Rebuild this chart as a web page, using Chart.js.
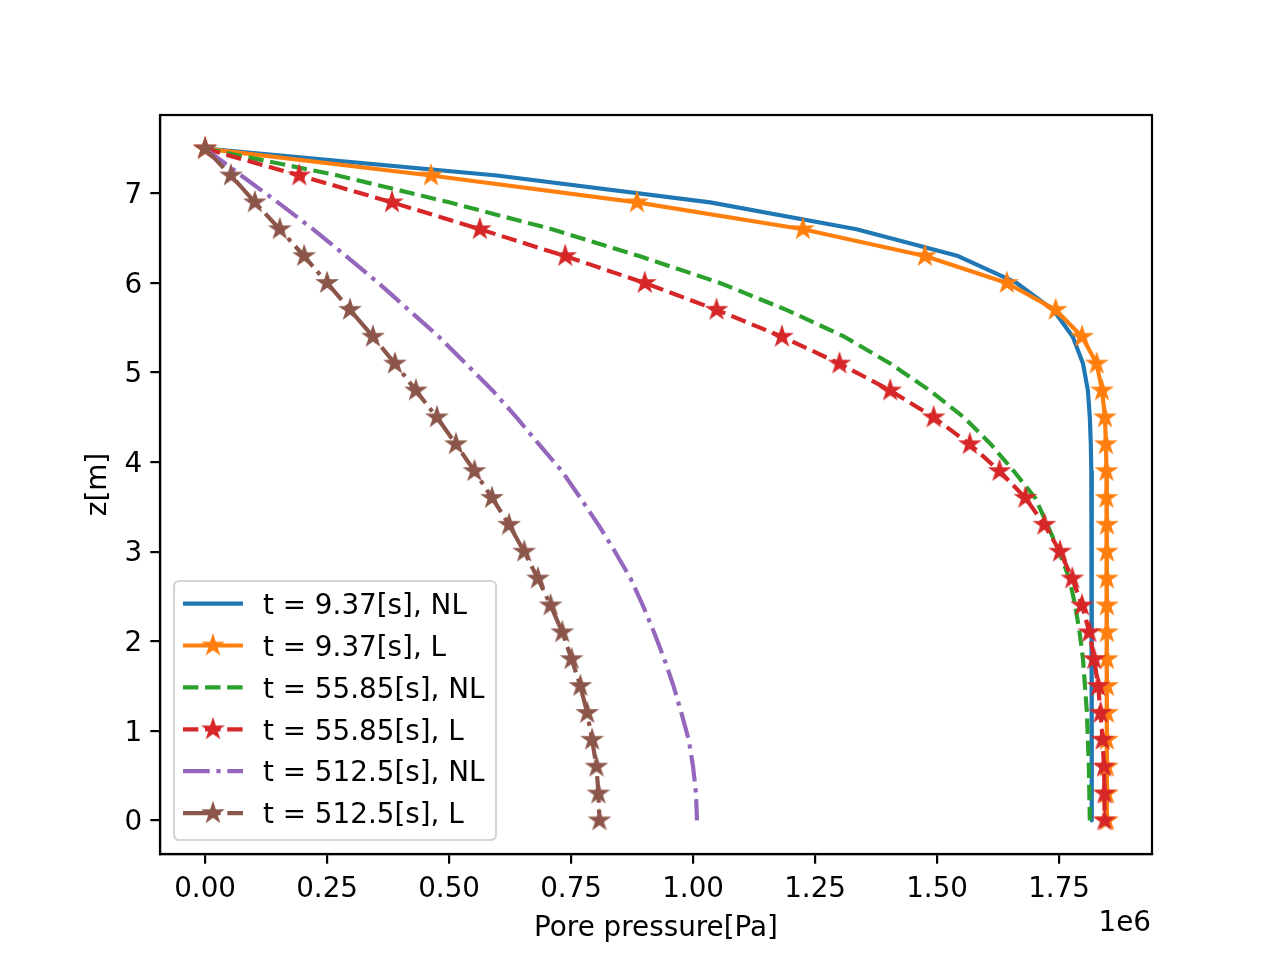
<!DOCTYPE html>
<html>
<head>
<meta charset="utf-8">
<script src="https://cdn.jsdelivr.net/npm/chart.js@4.4.1/dist/chart.umd.min.js"></script>
<style>
  html, body { margin: 0; padding: 0; background: #fff; }
  canvas { display: block; }
</style>
</head>
<body>
<canvas id="poreChart" width="1280" height="960"></canvas>
<script>
// depth of each sample [m]
var zValues = [7.5, 7.2, 6.9, 6.6, 6.3, 6.0, 5.7, 5.4, 5.1, 4.8, 4.5, 4.2, 3.9,
               3.6, 3.3, 3.0, 2.7, 2.4, 2.1, 1.8, 1.5, 1.2, 0.9, 0.6, 0.3, 0];

// pore pressure, in units of 1e6 Pa
var nl937 = [0, 0.598, 1.035, 1.335, 1.543, 1.663, 1.738, 1.778, 1.799, 1.809, 1.813, 1.815, 1.816,
             1.817, 1.817, 1.817, 1.817, 1.817, 1.817, 1.817, 1.817, 1.817, 1.817, 1.817, 1.817, 1.817];
var l937 = [0, 0.463, 0.885, 1.225, 1.475, 1.643, 1.743, 1.797, 1.827, 1.838, 1.844, 1.846, 1.847,
            1.847, 1.848, 1.848, 1.848, 1.848, 1.848, 1.848, 1.848, 1.848, 1.848, 1.848, 1.848, 1.848];
var nl5585 = [0, 0.272, 0.500, 0.711, 0.890, 1.055, 1.191, 1.310, 1.404, 1.485, 1.555, 1.610, 1.657,
              1.701, 1.726, 1.750, 1.771, 1.783, 1.792, 1.799, 1.803, 1.807, 1.809, 1.811, 1.812, 1.813];
var l5585 = [0, 0.193, 0.383, 0.563, 0.738, 0.901, 1.048, 1.182, 1.300, 1.404, 1.493, 1.567, 1.628,
             1.681, 1.720, 1.752, 1.777, 1.797, 1.812, 1.822, 1.830, 1.835, 1.839, 1.842, 1.843, 1.843];
var nl5125 = [0, 0.074, 0.149, 0.221, 0.289, 0.355, 0.417, 0.479, 0.534, 0.589, 0.638, 0.684, 0.731,
              0.769, 0.806, 0.840, 0.872, 0.897, 0.920, 0.941, 0.960, 0.976, 0.991, 1.000, 1.006, 1.008];
var l5125 = [0, 0.053, 0.102, 0.153, 0.203, 0.250, 0.297, 0.344, 0.389, 0.432, 0.475, 0.514, 0.552,
             0.588, 0.623, 0.654, 0.682, 0.708, 0.732, 0.751, 0.769, 0.783, 0.793, 0.802, 0.806, 0.808];

var seriesLabels = ['t = 9.37[s], NL', 't = 9.37[s], L', 't = 55.85[s], NL',
                    't = 55.85[s], L', 't = 512.5[s], NL', 't = 512.5[s], L'];
var xTicks = [0, 0.25, 0.5, 0.75, 1.0, 1.25, 1.5, 1.75];
var yTicks = [0, 1, 2, 3, 4, 5, 6, 7];

var FONT = { family: 'DejaVu Sans', size: 27.8 };
var LW = 4.17;
var DASHED = [15.4, 6.7];
var DASHDOT = [26.7, 6.7, 4.2, 6.7];

// filled five point star like matplotlib's '*' marker
function makeStar(color) {
    var c = document.createElement('canvas');
    c.width = 26;
    c.height = 26;
    var g = c.getContext('2d');
    var R = 8.3, r = R * 0.382;
    g.beginPath();
    for (var k = 0; k < 10; k++) {
        var rad = (k % 2 === 0) ? R : r;
        var a = -Math.PI / 2 + k * Math.PI / 5;
        var px = 13 + rad * Math.cos(a), py = 13 + rad * Math.sin(a);
        if (k === 0) g.moveTo(px, py); else g.lineTo(px, py);
    }
    g.closePath();
    g.fillStyle = color;
    g.fill();
    g.lineWidth = 2.6;
    g.lineJoin = 'miter';
    g.strokeStyle = color;
    g.stroke();
    return c;
}

function pairs(xs) {
    return xs.map(function (v, i) { return { x: v, y: zValues[i] }; });
}

var colors = ['#1f77b4', '#ff7f0e', '#2ca02c', '#d62728', '#9467bd', '#8c564b'];
var values = [nl937, l937, nl5585, l5585, nl5125, l5125];
var dashes = [[], [], DASHED, DASHED, DASHDOT, DASHDOT];
var hasStar = [false, true, false, true, false, true];

var datasets = values.map(function (v, i) {
    var star = hasStar[i] ? makeStar(colors[i]) : null;
    return {
        label: seriesLabels[i],
        data: pairs(v),
        borderColor: colors[i],
        backgroundColor: colors[i],
        borderWidth: LW,
        borderDash: dashes[i],
        borderJoinStyle: 'round',
        borderCapStyle: 'butt',
        showLine: true,
        fill: false,
        tension: 0,
        pointRadius: star ? 9 : 0,
        pointHoverRadius: star ? 9 : 0,
        pointStyle: star || 'circle',
        order: 10 - i
    };
});

function roundRect(ctx, x, y, w, h, r) {
    ctx.beginPath();
    ctx.moveTo(x + r, y);
    ctx.lineTo(x + w - r, y);
    ctx.quadraticCurveTo(x + w, y, x + w, y + r);
    ctx.lineTo(x + w, y + h - r);
    ctx.quadraticCurveTo(x + w, y + h, x + w - r, y + h);
    ctx.lineTo(x + r, y + h);
    ctx.quadraticCurveTo(x, y + h, x, y + h - r);
    ctx.lineTo(x, y + r);
    ctx.quadraticCurveTo(x, y, x + r, y);
    ctx.closePath();
}

var framePlugin = {
    id: 'frameAndLegend',
    afterDatasetsDraw: function (chart) {
        var ctx = chart.ctx, a = chart.chartArea;
        ctx.save();
        // axes box
        ctx.strokeStyle = '#000';
        ctx.lineWidth = 2.2;
        ctx.strokeRect(a.left, a.top, a.right - a.left, a.bottom - a.top);

        // legend box, lower left
        var x0 = a.left + 14, w = 322, h = 259;
        var y0 = a.bottom - 14 - h;
        roundRect(ctx, x0, y0, w, h, 5.5);
        ctx.fillStyle = 'rgba(255,255,255,0.8)';
        ctx.fill();
        ctx.strokeStyle = 'rgba(204,204,204,0.8)';
        ctx.lineWidth = 2.2;
        ctx.stroke();

        ctx.font = FONT.size + 'px "' + FONT.family + '"';
        ctx.textBaseline = 'middle';
        ctx.textAlign = 'left';
        chart.data.datasets.forEach(function (ds, i) {
            var cy = y0 + 22.6 + i * 41.9;
            ctx.beginPath();
            ctx.setLineDash(ds.borderDash);
            ctx.lineCap = 'butt';
            ctx.strokeStyle = ds.borderColor;
            ctx.lineWidth = ds.borderWidth;
            ctx.moveTo(x0 + 9, cy);
            ctx.lineTo(x0 + 69, cy);
            ctx.stroke();
            ctx.setLineDash([]);
            if (typeof ds.pointStyle === 'object') {
                ctx.drawImage(ds.pointStyle, x0 + 39 - 13, cy - 13);
            }
            ctx.fillStyle = '#000';
            ctx.fillText(ds.label, x0 + 89, cy + 3);
        });

        // offset text of the x axis
        ctx.textAlign = 'right';
        ctx.fillText('1e6', a.right - 1, a.bottom + 70);
        ctx.restore();
    }
};

var ctx = document.getElementById('poreChart').getContext('2d');

var poreChart = new Chart(ctx, {
    type: 'scatter',
    data: { datasets: datasets },
    options: {
        responsive: false,
        animation: false,
        devicePixelRatio: 1,
        layout: { padding: { left: 0, right: 128, top: 115, bottom: 0 } },
        plugins: {
            legend: { display: false },
            tooltip: { enabled: false }
        },
        scales: {
            x: {
                type: 'linear',
                min: -0.0924,
                max: 1.9404,
                afterBuildTicks: function (s) { s.ticks = xTicks.map(function (v) { return { value: v }; }); },
                afterFit: function (s) { s.height = 106; },
                ticks: {
                    font: FONT, color: '#000', padding: 9, maxRotation: 0, autoSkip: false,
                    callback: function (v) { return v.toFixed(2); }
                },
                grid: { drawOnChartArea: false, drawTicks: true, tickLength: 9.7, color: '#000', lineWidth: 2.2 },
                border: { display: true, color: '#000', width: 2.2 },
                title: { display: true, text: 'Pore pressure[Pa]', font: FONT, color: '#000', padding: { top: 0, bottom: 15 } }
            },
            y: {
                type: 'linear',
                min: -0.375,
                max: 7.875,
                afterBuildTicks: function (s) { s.ticks = yTicks.map(function (v) { return { value: v }; }); },
                afterFit: function (s) { s.width = 160; },
                ticks: {
                    font: FONT, color: '#000', padding: 8, autoSkip: false, labelOffset: 2.5,
                    callback: function (v) { return String(v); }
                },
                grid: { drawOnChartArea: false, drawTicks: true, tickLength: 9.7, color: '#000', lineWidth: 2.2 },
                border: { display: true, color: '#000', width: 2.2 },
                title: { display: true, text: 'z[m]', font: FONT, color: '#000', padding: { top: 82, bottom: 0 } }
            }
        }
    },
    plugins: [framePlugin]
});
</script>
</body>
</html>
